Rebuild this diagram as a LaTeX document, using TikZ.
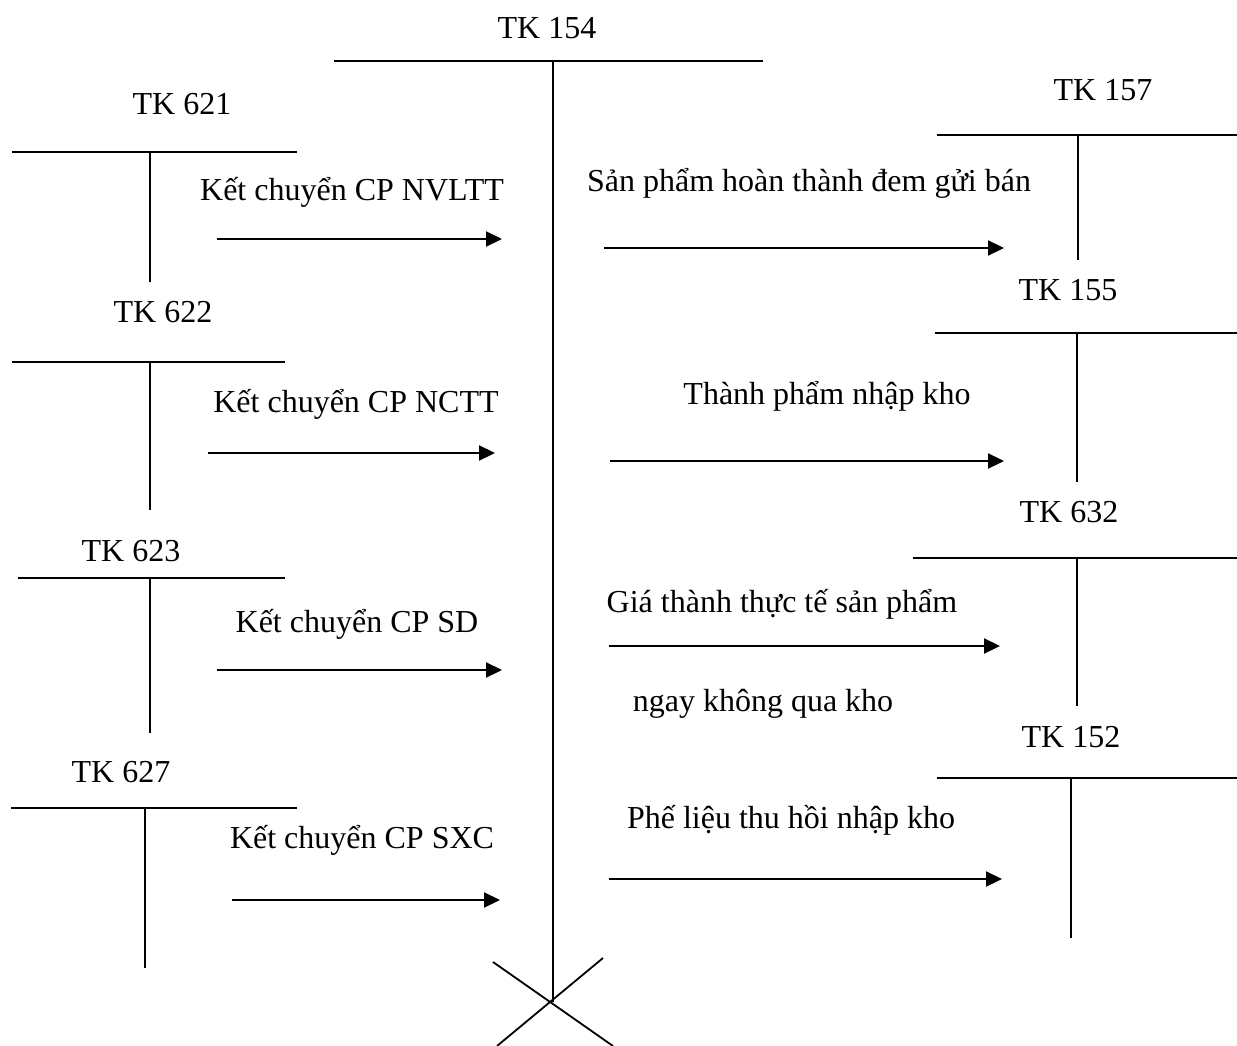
\documentclass[tikz,border=0pt]{standalone}
\usepackage{fontspec}
\setmainfont{Liberation Serif}
\usetikzlibrary{arrows.meta}
\begin{document}
\begin{tikzpicture}[x=1pt,y=-1pt,
  acc/.style={line width=1.8pt},
  flow/.style={line width=2.2pt,-{Triangle[length=16pt,width=15pt]}},
  lbl/.style={font=\fontsize{32}{36}\selectfont,inner sep=0pt,anchor=center}]
\useasboundingbox (0,0) rectangle (1237,1046);
% TK 154
\node[lbl] (t154) at (547,28) {TK 154};
\draw[acc] (334,61) -- (763,61);
\draw[acc] (553,61) coordinate (v154a) -- (553,1002) coordinate (v154b);
\draw[acc] (493,962) coordinate (xa) -- (613,1046) coordinate (xb);
\draw[acc] (603,958) coordinate (xc) -- (497,1046) coordinate (xd);
% left accounts
\node[lbl] (t621) at (182,104) {TK 621};
\draw[acc] (12,152) -- (297,152);
\draw[acc] (150,152) -- (150,282);
\node[lbl] (t622) at (163,312) {TK 622};
\draw[acc] (12,362) -- (285,362);
\draw[acc] (150,362) -- (150,510);
\node[lbl] (t623) at (131,551) {TK 623};
\draw[acc] (18,578) -- (285,578);
\draw[acc] (150,578) -- (150,733);
\node[lbl] (t627) at (121,772) {TK 627};
\draw[acc] (11,808) -- (297,808);
\draw[acc] (145,808) -- (145,968);
% right accounts
\node[lbl] (t157) at (1103,90) {TK 157};
\draw[acc] (937,135) -- (1237,135);
\draw[acc] (1078,135) -- (1078,260);
\node[lbl] (t155) at (1068,290) {TK 155};
\draw[acc] (935,333) -- (1237,333);
\draw[acc] (1077,333) -- (1077,482);
\node[lbl] (t632) at (1069,512) {TK 632};
\draw[acc] (913,558) -- (1237,558);
\draw[acc] (1077,558) -- (1077,706);
\node[lbl] (t152) at (1071,737) {TK 152};
\draw[acc] (937,778) -- (1237,778);
\draw[acc] (1071,778) -- (1071,938);
% left arrows
\coordinate (l1a) at (217,239); \coordinate (l1b) at (502,239);
\coordinate (l2a) at (208,453); \coordinate (l2b) at (495,453);
\coordinate (l3a) at (217,670); \coordinate (l3b) at (502,670);
\coordinate (l4a) at (232,900); \coordinate (l4b) at (500,900);
\draw[flow] (l1a) -- (l1b);
\draw[flow] (l2a) -- (l2b);
\draw[flow] (l3a) -- (l3b);
\draw[flow] (l4a) -- (l4b);
\node[lbl] (k1) at (352,192) {Kết chuyển CP NVLTT};
\node[lbl] (k2) at (356,404) {Kết chuyển CP NCTT};
\node[lbl] (k3) at (357,624) {Kết chuyển CP SD};
\node[lbl] (k4) at (362,840) {Kết chuyển CP SXC};
% right arrows
\coordinate (r1a) at (604,248); \coordinate (r1b) at (1004,248);
\coordinate (r2a) at (610,461); \coordinate (r2b) at (1004,461);
\coordinate (r3a) at (609,646); \coordinate (r3b) at (1000,646);
\coordinate (r4a) at (609,879); \coordinate (r4b) at (1002,879);
\draw[flow] (r1a) -- (r1b);
\draw[flow] (r2a) -- (r2b);
\draw[flow] (r3a) -- (r3b);
\draw[flow] (r4a) -- (r4b);
\node[lbl] (s1) at (809,183) {Sản phẩm hoàn thành đem gửi bán};
\node[lbl] (s2) at (827,396) {Thành phẩm nhập kho};
\node[lbl] (s3) at (782,604) {Giá thành thực tế sản phẩm};
\node[lbl] (s3b) at (763,704) {ngay không qua kho};
\node[lbl] (s4) at (791,820) {Phế liệu thu hồi nhập kho};
\end{tikzpicture}
\end{document}
